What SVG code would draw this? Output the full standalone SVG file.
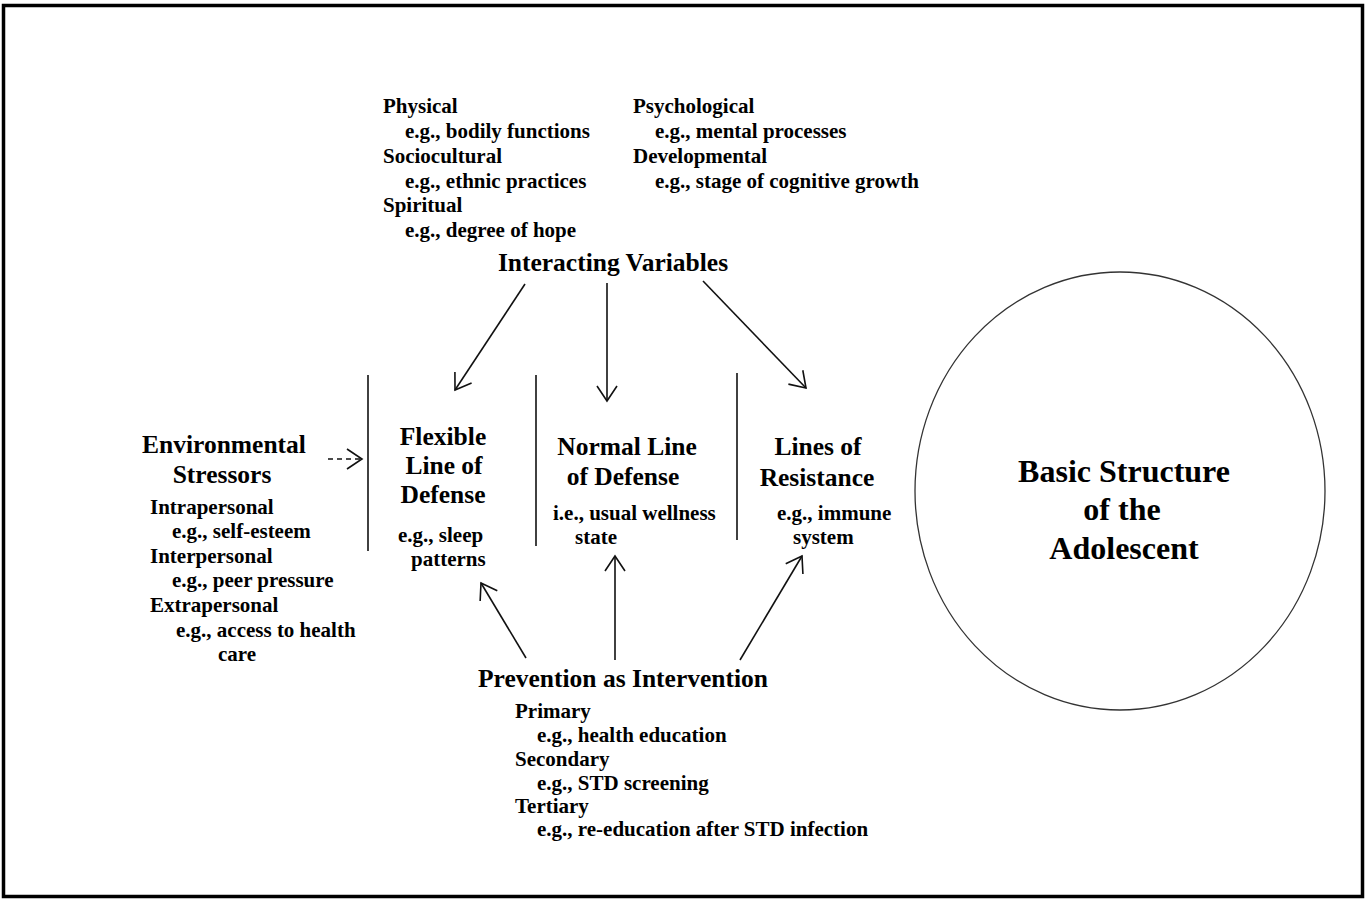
<svg xmlns="http://www.w3.org/2000/svg" width="1367" height="902" viewBox="0 0 1367 902">
<style>
text{font-family:"Liberation Serif","Times New Roman",serif;font-weight:bold;fill:#000}
.s{font-size:21px}
.b{font-size:25.5px}
.c{font-size:32px}
.ln{stroke:#111;stroke-width:1.6;fill:none}
</style>
<defs>
<marker id="ah" markerUnits="userSpaceOnUse" markerWidth="40" markerHeight="40" viewBox="-20 -20 40 40" refX="0" refY="0" orient="auto" overflow="visible">
<path d="M-15,-10 L0,0 L-15,10" fill="none" stroke="#111" stroke-width="1.6"/>
</marker>
</defs>
<rect x="0" y="0" width="1367" height="902" fill="#fff"/>
<rect id="frame" x="3.5" y="5.5" width="1359" height="891" fill="none" stroke="#000" stroke-width="3.5"/>

<g id="interacting-variables">
<text class="s" x="383" y="113">Physical</text>
<text class="s" x="405" y="138">e.g., bodily functions</text>
<text class="s" x="383" y="163">Sociocultural</text>
<text class="s" x="405" y="188">e.g., ethnic practices</text>
<text class="s" x="383" y="212">Spiritual</text>
<text class="s" x="405" y="237">e.g., degree of hope</text>
<text class="s" x="633" y="113">Psychological</text>
<text class="s" x="655" y="138">e.g., mental processes</text>
<text class="s" x="633" y="163">Developmental</text>
<text class="s" x="655" y="188">e.g., stage of cognitive growth</text>
<text class="b" x="613" y="271" text-anchor="middle">Interacting Variables</text>
</g>

<g id="environmental-stressors">
<text class="b" x="224" y="453" text-anchor="middle">Environmental</text>
<text class="b" x="222" y="483" text-anchor="middle">Stressors</text>
<text class="s" x="150" y="514">Intrapersonal</text>
<text class="s" x="172" y="538">e.g., self-esteem</text>
<text class="s" x="150" y="563">Interpersonal</text>
<text class="s" x="172" y="587">e.g., peer pressure</text>
<text class="s" x="150" y="612">Extrapersonal</text>
<text class="s" x="176" y="637">e.g., access to health</text>
<text class="s" x="218" y="661">care</text>
</g>

<g id="flexible-line">
<text class="b" x="443" y="445" text-anchor="middle">Flexible</text>
<text class="b" x="444" y="474" text-anchor="middle">Line of</text>
<text class="b" x="443" y="503" text-anchor="middle">Defense</text>
<text class="s" x="398" y="542">e.g., sleep</text>
<text class="s" x="411" y="566">patterns</text>
</g>

<g id="normal-line">
<text class="b" x="627" y="455" text-anchor="middle">Normal Line</text>
<text class="b" x="623" y="485" text-anchor="middle">of Defense</text>
<text class="s" x="553" y="520">i.e., usual wellness</text>
<text class="s" x="575" y="544">state</text>
</g>

<g id="lines-of-resistance">
<text class="b" x="818" y="455" text-anchor="middle">Lines of</text>
<text class="b" x="817" y="486" text-anchor="middle">Resistance</text>
<text class="s" x="777" y="520">e.g., immune</text>
<text class="s" x="793" y="544">system</text>
</g>

<g id="prevention">
<text class="b" x="623" y="687" text-anchor="middle">Prevention as Intervention</text>
<text class="s" x="515" y="718">Primary</text>
<text class="s" x="537" y="742">e.g., health education</text>
<text class="s" x="515" y="766">Secondary</text>
<text class="s" x="537" y="790">e.g., STD screening</text>
<text class="s" x="515" y="813">Tertiary</text>
<text class="s" x="537" y="836">e.g., re-education after STD infection</text>
</g>

<g id="basic-structure">
<ellipse cx="1120" cy="491" rx="205" ry="219" fill="none" stroke="#333" stroke-width="1.3"/>
<text class="c" x="1124" y="482" text-anchor="middle">Basic Structure</text>
<text class="c" x="1122" y="520" text-anchor="middle">of the</text>
<text class="c" x="1124" y="559" text-anchor="middle">Adolescent</text>
</g>

<g id="connectors">
<line class="ln" x1="368" y1="375" x2="368" y2="551"/>
<line class="ln" x1="536" y1="375" x2="536" y2="546"/>
<line class="ln" x1="737" y1="373" x2="737" y2="540"/>
<line class="ln" x1="525" y1="284" x2="455" y2="390" marker-end="url(#ah)"/>
<line class="ln" x1="607" y1="283" x2="607" y2="401" marker-end="url(#ah)"/>
<line class="ln" x1="703" y1="281" x2="806" y2="388" marker-end="url(#ah)"/>
<line class="ln" x1="328" y1="459" x2="362" y2="459" stroke-dasharray="5,4" marker-end="url(#ah)"/>
<line class="ln" x1="526" y1="658" x2="481" y2="583" marker-end="url(#ah)"/>
<line class="ln" x1="615" y1="660" x2="615" y2="556" marker-end="url(#ah)"/>
<line class="ln" x1="740" y1="660" x2="802" y2="556" marker-end="url(#ah)"/>
</g>
</svg>
